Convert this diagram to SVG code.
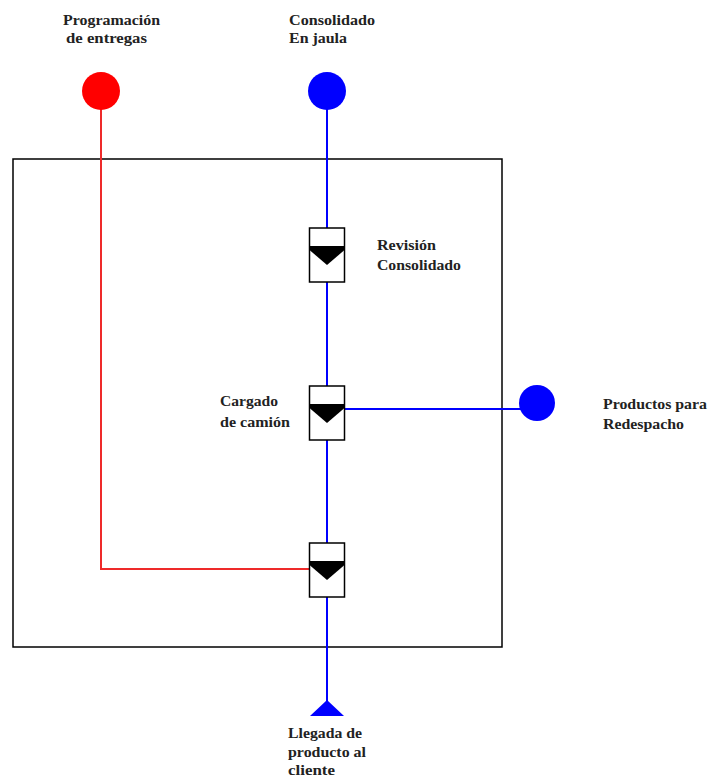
<svg xmlns="http://www.w3.org/2000/svg" width="708" height="779" viewBox="0 0 708 779">
<style>
.t{font-family:"Liberation Serif","Times New Roman",serif;font-weight:bold;font-size:15px;fill:#222}
.blue{stroke:#0000ff;stroke-width:2;fill:none}
.red{stroke:#ee2a2a;stroke-width:2;fill:none}
.box{fill:#fff;stroke:#000;stroke-width:1.5}
</style>
<defs>
<g id="op">
<rect class="box" x="-17.5" y="0" width="35" height="54"/>
<path d="M-17.5,18 H17.5 V22 L0,37 L-17.5,22 Z" fill="#000"/>
</g>
</defs>
<rect id="frame" x="13" y="159" width="489" height="488" fill="none" stroke="#000" stroke-width="1.5"/>
<g id="connectors">
<path class="red" d="M101,91 V569 H310"/>
<path class="blue" d="M327,91 V705"/>
<path class="blue" d="M344,409 H537"/>
</g>
<g id="programacion">
<circle cx="101" cy="91" r="19" fill="#ff0000"/>
<text class="t" x="63" y="25" textLength="97" lengthAdjust="spacingAndGlyphs">Programación</text>
<text class="t" x="66" y="43" textLength="81" lengthAdjust="spacingAndGlyphs">de entregas</text>
</g>
<g id="consolidado">
<circle cx="327" cy="91" r="19" fill="#0000ff"/>
<text class="t" x="289" y="25" textLength="86" lengthAdjust="spacingAndGlyphs">Consolidado</text>
<text class="t" x="289" y="43" textLength="58" lengthAdjust="spacingAndGlyphs">En jaula</text>
</g>
<g id="revision">
<use href="#op" x="327" y="228"/>
<text class="t" x="377" y="250" textLength="59" lengthAdjust="spacingAndGlyphs">Revisión</text>
<text class="t" x="377" y="270" textLength="84" lengthAdjust="spacingAndGlyphs">Consolidado</text>
</g>
<g id="cargado">
<use href="#op" x="327" y="386"/>
<text class="t" x="220" y="406" textLength="58" lengthAdjust="spacingAndGlyphs">Cargado</text>
<text class="t" x="220" y="427" textLength="70" lengthAdjust="spacingAndGlyphs">de camión</text>
</g>
<g id="redespacho">
<circle cx="537" cy="403" r="18" fill="#0000ff"/>
<text class="t" x="603" y="409" textLength="104" lengthAdjust="spacingAndGlyphs">Productos para</text>
<text class="t" x="603" y="429" textLength="81" lengthAdjust="spacingAndGlyphs">Redespacho</text>
</g>
<g id="union">
<use href="#op" x="327" y="543"/>
</g>
<g id="llegada">
<polygon points="327,700 344,716 310,716" fill="#0000ff"/>
<text class="t" x="288" y="738" textLength="74" lengthAdjust="spacingAndGlyphs">Llegada de</text>
<text class="t" x="288" y="757" textLength="78" lengthAdjust="spacingAndGlyphs">producto al</text>
<text class="t" x="288" y="775" textLength="47" lengthAdjust="spacingAndGlyphs">cliente</text>
</g>
</svg>
